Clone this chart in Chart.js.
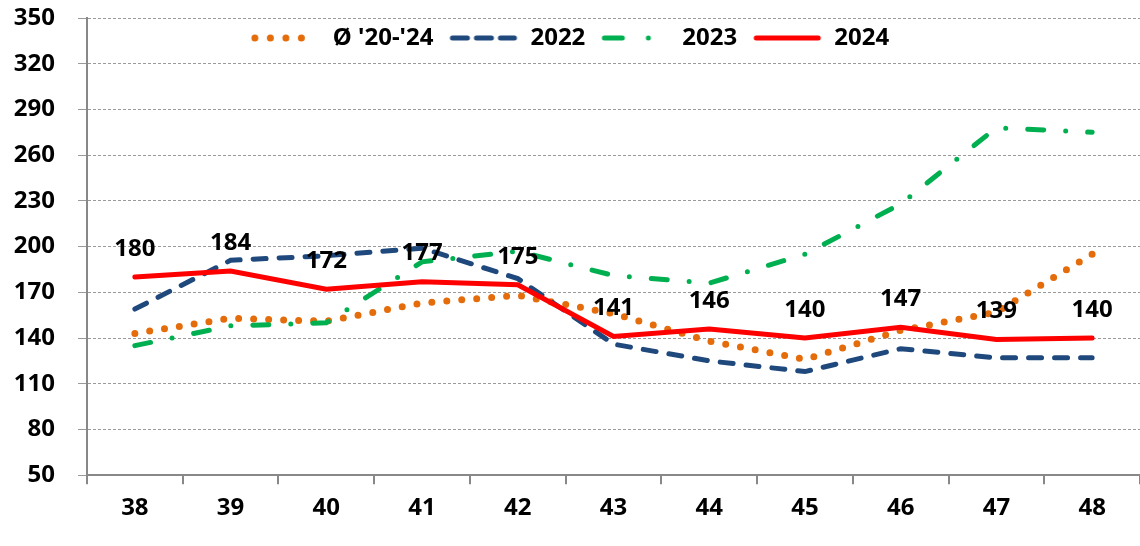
<!DOCTYPE html>
<html>
<head>
<meta charset="utf-8">
<script src="https://cdn.jsdelivr.net/npm/chart.js@4"></script>
<style>
  html, body { margin: 0; padding: 0; background: #fff; }
  #wrap { width: 1140px; height: 546px; }
</style>
</head>
<body>
<div id="wrap"><canvas id="chart"></canvas></div>
<script>
// data
const weeks = ['38', '39', '40', '41', '42', '43', '44', '45', '46', '47', '48'];
const avg2024 = [143, 153, 151, 163, 168, 156, 138, 126, 145, 157, 195];
const y2022 = [159, 191, 194, 199, 179, 136, 125, 118, 133, 127, 127];
const y2023 = [135, 148, 150, 190, 197, 181, 176, 195, 228, 278, 275];
const y2024 = [180, 184, 172, 177, 175, 141, 146, 140, 147, 139, 140];
const yTicks = { min: 50, max: 350, step: 30 };

const FONT = "'Noto Sans', sans-serif";

// small line sample used as legend symbol (keeps the dash pattern intact)
function lineSample(color, width, dash) {
  const c = document.createElement('canvas');
  c.width = 70;
  c.height = 12;
  const g = c.getContext('2d');
  g.strokeStyle = color;
  g.lineWidth = width;
  g.lineCap = 'round';
  g.setLineDash(dash);
  g.beginPath();
  g.moveTo(4, 6);
  g.lineTo(66, 6);
  g.stroke();
  return c;
}

// legend sits inside the plot area (takes no layout space)
const legendInside = {
  id: 'legendInside',
  beforeInit(chart) {
    const lg = chart.legend;
    if (!lg || lg._patched) return;
    lg._patched = true;
    const fit = lg.fit;
    lg.fit = function () { fit.call(this); this.height = 0; };
    const draw = lg.draw;
    lg.draw = function () {
      const ctx = this.ctx;
      const bottom = this.bottom;
      this.bottom = this.top + 70;
      ctx.save();
      ctx.translate(0, -7);
      draw.call(this);
      ctx.restore();
      this.bottom = bottom;
    };
  }
};

// value labels above the 2024 line
const valueLabels = {
  id: 'valueLabels',
  afterDatasetsDraw(chart) {
    const ctx = chart.ctx;
    const meta = chart.getDatasetMeta(3);
    ctx.save();
    ctx.font = 'bold 24px ' + FONT;
    ctx.fillStyle = '#000';
    ctx.textAlign = 'center';
    ctx.textBaseline = 'middle';
    meta.data.forEach((pt, i) => {
      ctx.fillText(String(y2024[i]), pt.x, pt.y - 28);
    });
    ctx.restore();
  }
};

new Chart(document.getElementById('chart'), {
  type: 'line',
  data: {
    labels: weeks,
    datasets: [
      {
        label: "Ø '20-'24",
        data: avg2024,
        borderColor: '#E46C0A',
        backgroundColor: '#E46C0A',
        borderWidth: 7,
        borderDash: [0, 15],
        borderCapStyle: 'round',
        pointStyle: lineSample('#E46C0A', 7, [0, 15.5]),
        order: 3
      },
      {
        label: '2022',
        data: y2022,
        borderColor: '#1F497D',
        backgroundColor: '#1F497D',
        borderWidth: 5,
        borderDash: [13, 13],
        borderCapStyle: 'round',
        pointStyle: lineSample('#1F497D', 5, [15, 9]),
        order: 2
      },
      {
        label: '2023',
        data: y2023,
        borderColor: '#00B050',
        backgroundColor: '#00B050',
        borderWidth: 5,
        borderDash: [16, 22, 0, 22],
        borderCapStyle: 'round',
        pointStyle: lineSample('#00B050', 5, [18, 26, 0, 40]),
        order: 1
      },
      {
        label: '2024',
        data: y2024,
        borderColor: '#FF0000',
        backgroundColor: '#FF0000',
        borderWidth: 5,
        borderCapStyle: 'round',
        pointStyle: lineSample('#FF0000', 5, []),
        order: 0
      }
    ]
  },
  options: {
    responsive: true,
    maintainAspectRatio: false,
    animation: false,
    elements: {
      point: { radius: 0, hoverRadius: 0 },
      line: { tension: 0 }
    },
    layout: { padding: { top: 18, right: 0, bottom: 13, left: 0 } },
    scales: {
      x: {
        offset: true,
        grid: {
          offset: true,
          drawOnChartArea: false,
          drawTicks: true,
          tickLength: 9,
          color: '#888',
          lineWidth: 2
        },
        border: { color: '#888', width: 2 },
        ticks: {
          color: '#000',
          padding: 10,
          font: { family: FONT, size: 24, weight: 'bold' }
        }
      },
      y: {
        min: yTicks.min,
        max: yTicks.max,
        afterFit(scale) {
          scale.width = 87;
          scale.paddingTop = 0;
          scale.paddingBottom = 0;
        },
        ticks: {
          stepSize: yTicks.step,
          color: '#000',
          padding: 23,
          font: { family: FONT, size: 24, weight: 'bold' }
        },
        grid: {
          color: '#9a9a9a',
          lineWidth: 1,
          tickLength: 9
        },
        border: { color: '#888', width: 2, dash: [3, 2] }
      }
    },
    plugins: {
      tooltip: { enabled: false },
      legend: {
        position: 'top',
        labels: {
          usePointStyle: true,
          pointStyleWidth: 70,
          padding: 15,
          color: '#000',
          font: { family: FONT, size: 24, weight: 'bold' },
          sort: (a, b) => a.datasetIndex - b.datasetIndex
        }
      }
    }
  },
  plugins: [legendInside, valueLabels]
});
</script>
</body>
</html>
